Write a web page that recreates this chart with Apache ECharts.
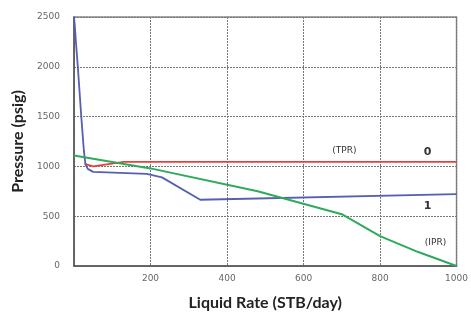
<!DOCTYPE html>
<html>
<head>
<meta charset="utf-8">
<script src="https://cdn.jsdelivr.net/npm/echarts@6/dist/echarts.min.js"></script>
<style>
  html, body { margin: 0; padding: 0; background: #fff; }
  #chart { width: 471px; height: 321px; }
</style>
</head>
<body>
<div id="chart"></div>
<script>
// liquid rate (STB/day), pressure (psig)
const tprRate = [28, 50, 130, 1000];
const tprPressure = [1025, 1000, 1045, 1045];

const curve1Rate = [0, 2, 5, 10, 19, 26, 30, 36, 50, 190, 230, 330, 1000];
const curve1Pressure = [2500, 2420, 2250, 2000, 1500, 1150, 1020, 975, 945, 925, 890, 665, 722];

const iprRate = [0, 200, 480, 700, 750, 800, 900, 1000];
const iprPressure = [1110, 980, 750, 520, 410, 300, 140, 0];

const curveLabels = [
  { text: "(TPR)", rate: 707, pressure: 1160, size: 9, bold: false },
  { text: "0", rate: 924, pressure: 1140, size: 11, bold: true },
  { text: "1", rate: 924, pressure: 605, size: 11, bold: true },
  { text: "(IPR)", rate: 945, pressure: 232, size: 9, bold: false },
];

const pairs = (xs, ys) => xs.map((x, i) => [x, ys[i]]);

const myChart = echarts.init(document.getElementById("chart"));
myChart.setOption({
  animation: false,
  grid: {
    left: 74,
    right: 11,
    top: 17,
    bottom: 55,
    show: true,
    borderColor: "#888",
    borderWidth: 1.5,
  },
  xAxis: {
    type: "value",
    min: 0,
    max: 1000,
    interval: 200,
    name: "Liquid Rate (STB/day)",
    nameLocation: "middle",
    nameGap: 29,
    nameTextStyle: { fontFamily: "Lato", fontWeight: "bold", fontSize: 16, color: "#222" },
    axisLine: { lineStyle: { color: "#555", width: 1.5 } },
    axisTick: { show: false },
    axisLabel: {
      color: "#666",
      fontFamily: "DejaVu Sans",
      fontSize: 9,
      margin: 8,
      formatter: (v) => (v === 0 ? "" : String(v)),
    },
    splitLine: { lineStyle: { color: "#777", type: [2, 1], width: 1 } },
  },
  yAxis: {
    type: "value",
    min: 0,
    max: 2500,
    interval: 500,
    name: "Pressure (psig)",
    nameLocation: "middle",
    nameGap: 48,
    nameTextStyle: { fontFamily: "Lato", fontWeight: "bold", fontSize: 16, color: "#222" },
    axisLine: { show: true, lineStyle: { color: "#555", width: 1.5 } },
    axisTick: { show: false },
    axisLabel: {
      color: "#666",
      fontFamily: "DejaVu Sans",
      fontSize: 9,
      margin: 14,
      formatter: (v) => String(v),
    },
    splitLine: { lineStyle: { color: "#777", type: [2, 1], width: 1 } },
  },
  series: [
    {
      name: "TPR",
      type: "line",
      data: pairs(tprRate, tprPressure),
      lineStyle: { color: "#e8413c", width: 1.8 },
      markPoint: {
        symbol: "circle",
        symbolSize: 0,
        data: curveLabels.map((l) => ({
          coord: [l.rate, l.pressure],
          label: {
            show: true,
            formatter: l.text,
            color: "#333",
            fontFamily: "DejaVu Sans",
            fontSize: l.size,
            fontWeight: l.bold ? "bold" : "normal",
          },
        })),
      },
    },
    {
      name: "1",
      type: "line",
      data: pairs(curve1Rate, curve1Pressure),
      lineStyle: { color: "#5560b0", width: 1.8 },
    },
    {
      name: "IPR",
      type: "line",
      data: pairs(iprRate, iprPressure),
      lineStyle: { color: "#2eaa5c", width: 2 },
    },
  ].map((obj) => ({ ...obj, symbol: "none", showSymbol: false, silent: true })),
});
</script>
</body>
</html>
